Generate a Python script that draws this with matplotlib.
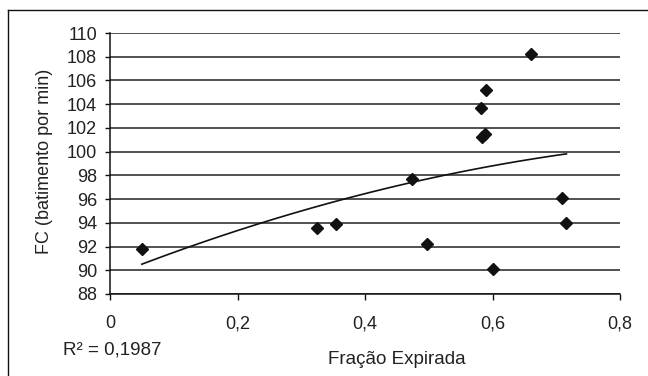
import numpy as np
import matplotlib
matplotlib.use("Agg")
import matplotlib.pyplot as plt
from matplotlib.lines import Line2D
from matplotlib.ticker import FuncFormatter

plt.rcParams['font.family'] = ['Liberation Sans', 'DejaVu Sans']

# fração expirada vs frequência cardíaca
fracao = [0.050, 0.324, 0.355, 0.473, 0.497, 0.5815, 0.584, 0.588,
          0.590, 0.601, 0.661, 0.7095, 0.716]
fc = [91.8, 93.6, 93.9, 97.7, 92.2, 103.7, 101.2, 101.5,
      105.2, 90.1, 108.2, 96.1, 94.0]
r2_text = "R\u00b2 = 0,1987"

x_ticks = [0, 0.2, 0.4, 0.6, 0.8]
y_ticks = list(range(88, 111, 2))

W, H = 648, 376
fig = plt.figure(figsize=(W / 100, H / 100), dpi=100)
ax = fig.add_axes([110 / W, 1 - 294 / H, 510 / W, 261 / H])

ax.set_xlim(0, 0.8)
ax.set_ylim(88, 110)
ax.set_xticks(x_ticks)
ax.set_yticks(y_ticks)


def virgula(v, pos):
    if v == 0:
        return "0"
    return ("%.1f" % v).replace(".", ",")


ax.xaxis.set_major_formatter(FuncFormatter(virgula))
ax.yaxis.set_major_formatter(FuncFormatter(lambda v, p: "%d" % v))

ax.grid(axis='y', color='#222222', linewidth=1.1)
ax.set_axisbelow(True)
for s in ['top', 'right']:
    ax.spines[s].set_visible(False)
for s in ['left', 'bottom']:
    ax.spines[s].set_color('#111111')
    ax.spines[s].set_linewidth(1.1)

ax.tick_params(axis='y', direction='out', length=3.6, width=1.0,
               pad=5.8, labelsize=13, colors='#111111', labelcolor='#222222')
ax.tick_params(axis='x', direction='out', length=4.3, width=1.0,
               pad=11, labelsize=13, colors='#111111', labelcolor='#222222')

# pontos
ax.plot(fracao, fc, linestyle='none', marker='D', markersize=6.1,
        color='#111111', clip_on=False, zorder=3)

# linha de tendência (polinomial de 2a ordem)
coef = np.polyfit(fracao, fc, 2)
xs = np.linspace(min(fracao), max(fracao), 60)
ax.plot(xs, np.polyval(coef, xs), color='#111111', linewidth=1.2, zorder=2)

# títulos
fig.text(45 / W, 1 - 161 / H, "FC (batimento por min)", rotation=90,
         ha='center', va='center', fontsize=13, color='#222222')
fig.text(397 / W, 1 - 359 / H, "Fração Expirada", ha='center', va='center',
         fontsize=13.5, color='#222222')
fig.text(63 / W, 1 - 350 / H, r2_text, ha='left', va='center',
         fontsize=13.5, color='#222222')

# moldura externa
fig.add_artist(Line2D([8 / W, 1.0], [1 - 10 / H, 1 - 10 / H],
                      transform=fig.transFigure, color='#111111', linewidth=1.0))
fig.add_artist(Line2D([8 / W, 8 / W], [0.0, 1 - 10 / H],
                      transform=fig.transFigure, color='#111111', linewidth=1.0))

fig.savefig("out.png", dpi=100)
